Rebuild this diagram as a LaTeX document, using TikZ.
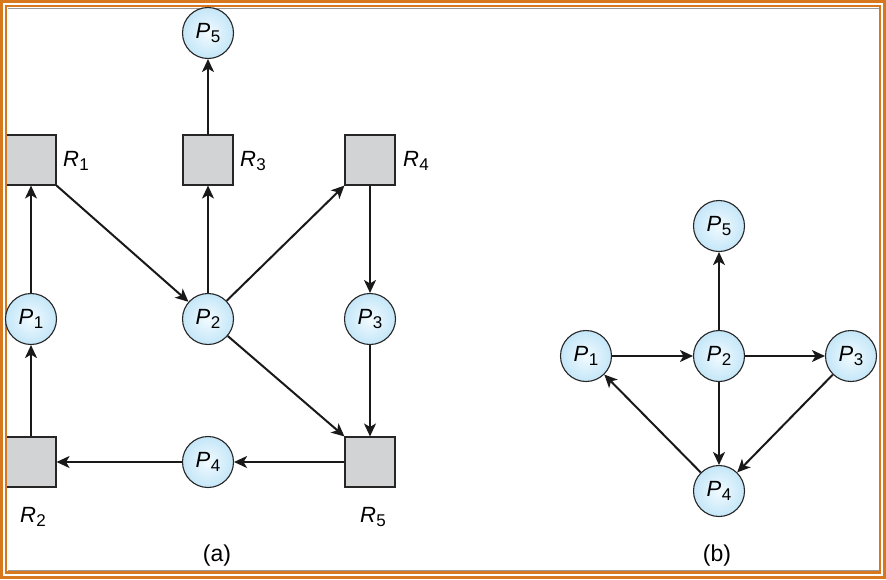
\documentclass[tikz,border=0pt]{standalone}
\usepackage{fontspec}
\setmainfont{Liberation Sans}
\usetikzlibrary{arrows.meta}
\definecolor{frameorange}{RGB}{215,120,30}
\definecolor{boxgray}{RGB}{210,211,212}
\definecolor{procin}{RGB}{242,251,255}
\definecolor{procout}{RGB}{196,230,248}
\tikzset{
  proc/.style={circle, draw=black!85, line width=1.1pt, minimum size=51pt, inner sep=0pt,
    inner color=procin, outer color=procout, font=\fontsize{22}{22}\selectfont},
  res/.style={rectangle, draw=black!85, line width=1.1pt, minimum size=50pt, inner sep=0pt, fill=boxgray},
  lbl/.style={font=\fontsize{22}{22}\selectfont, inner sep=0pt},
  sublbl/.style={font=\fontsize{23}{23}\selectfont, inner sep=0pt},
  edge/.style={line width=2pt, draw=black!90, -{Stealth[length=13pt,width=12pt,inset=3.5pt]}},
}
\newcommand{\PP}[1]{\textit{P}\kern0.5pt\raisebox{-0.4ex}{\fontsize{17}{17}\selectfont #1}}
\newcommand{\RR}[1]{\textit{R}\kern0.5pt\raisebox{-0.4ex}{\fontsize{17}{17}\selectfont #1}}
\begin{document}
\begin{tikzpicture}[x=1pt,y=-1pt]
\useasboundingbox (0,0) rectangle (886,579);
\fill[white] (0,0) rectangle (886,579);
% frame
\draw[frameorange, line width=2.5pt] (1.5,1.5) rectangle (884.5,577.5);
\draw[frameorange, line width=2.5pt] (6,6) rectangle (880,572.5);
\draw[black!40, line width=0.7pt] (7.5,8) -- (878.5,8);
\draw[black!40, line width=0.7pt] (7.5,570.5) -- (878.5,570.5);
% (a) resources
\node[res] (R1) at (31,160) {};
\node[res] (R3) at (208,160) {};
\node[res] (R4) at (370,160) {};
\node[res] (R2) at (31,462) {};
\node[res] (R5) at (370,462) {};
% re-draw frame left side over boxes
\fill[white] (2.5,100) rectangle (4.8,520);
\draw[frameorange, line width=2.5pt] (6,6) -- (6,572.5);
\draw[frameorange, line width=2.5pt] (1.5,1.5) -- (1.5,577.5);
% (a) processes
\node[proc] (P5) at (208,33) {\PP{5}};
\node[proc] (P1) at (31,319) {\PP{1}};
\node[proc] (P2) at (208,319) {\PP{2}};
\node[proc] (P3) at (370,319) {\PP{3}};
\node[proc] (P4) at (208,462) {\PP{4}};
% labels
\node[lbl] (lR1) at (76,161) {\RR{1}};
\node[lbl] (lR3) at (253,161) {\RR{3}};
\node[lbl] (lR4) at (416,161) {\RR{4}};
\node[lbl] (lR2) at (33,517) {\RR{2}};
\node[lbl] (lR5) at (373,517) {\RR{5}};
\node[sublbl] (la) at (217,556) {(a)};
\node[sublbl] (lb) at (717,556) {(b)};
% (a) edges
\draw[edge] (P1) -- (R1);
\draw[edge] (R2) -- (P1);
\draw[edge] (R1.south east) -- (P2);
\draw[edge] (P2) -- (R3);
\draw[edge] (R3) -- (P5);
\draw[edge] (P2) -- (R4.south west);
\draw[edge] (R4) -- (P3);
\draw[edge] (P3) -- (R5);
\draw[edge] (P2) -- (R5.north west);
\draw[edge] (R5) -- (P4);
\draw[edge] (P4) -- (R2);
% (b)
\node[proc] (Q5) at (719,226) {\PP{5}};
\node[proc] (Q1) at (586,356) {\PP{1}};
\node[proc] (Q2) at (719,356) {\PP{2}};
\node[proc] (Q3) at (851,356) {\PP{3}};
\node[proc] (Q4) at (719,491) {\PP{4}};
\draw[edge] (Q1) -- (Q2);
\draw[edge] (Q2) -- (Q5);
\draw[edge] (Q2) -- (Q3);
\draw[edge] (Q2) -- (Q4);
\draw[edge] (Q3) -- (Q4);
\draw[edge] (Q4) -- (Q1);
\end{tikzpicture}
\end{document}
